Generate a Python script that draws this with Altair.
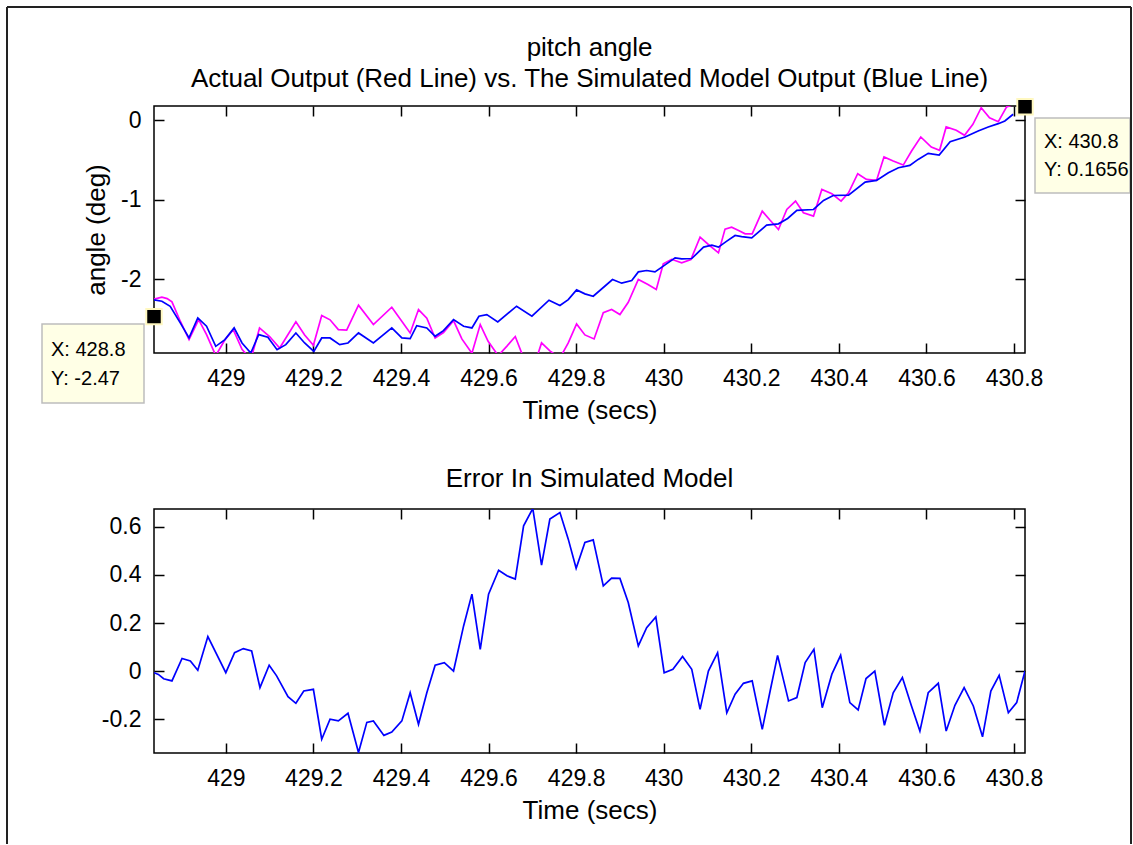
import altair as alt
import pandas as pd

FONT = "Liberation Sans"

# ---------------- data ----------------
# Simulated model output (blue), time in s, angle in deg
blue_t = [428.836, 428.854, 428.873, 428.896, 428.916, 428.936, 428.956, 428.977, 428.998, 429.019,
          429.037, 429.057, 429.075, 429.096, 429.117, 429.137, 429.160, 429.180, 429.201, 429.219,
          429.238, 429.260, 429.279, 429.303, 429.337, 429.379, 429.402, 429.421, 429.436, 429.459,
          429.478, 429.497, 429.520, 429.543, 429.562, 429.578, 429.596, 429.621, 429.664, 429.699,
          429.738, 429.763, 429.782, 429.801, 429.820, 429.839, 429.883, 429.904, 429.927, 429.942,
          429.961, 429.980, 429.999, 430.026, 430.041, 430.064, 430.091, 430.110, 430.125, 430.144,
          430.163, 430.178, 430.201, 430.235, 430.262, 430.283, 430.304, 430.342, 430.365, 430.387,
          430.422, 430.460, 430.486, 430.513, 430.536, 430.562, 430.581, 430.604, 430.629, 430.654,
          430.688, 430.718, 430.741, 430.764, 430.779, 430.798]
blue_v = [-2.26, -2.277, -2.34, -2.549, -2.738, -2.486, -2.591, -2.843, -2.759, -2.612,
          -2.801, -2.927, -2.696, -2.729, -2.885, -2.822, -2.675, -2.801, -2.906, -2.738,
          -2.738, -2.822, -2.801, -2.675, -2.801, -2.612, -2.738, -2.746, -2.583, -2.612,
          -2.717, -2.646, -2.507, -2.591, -2.612, -2.465, -2.444, -2.536, -2.339, -2.465,
          -2.264, -2.331, -2.256, -2.134, -2.184, -2.214, -2.004, -2.050, -2.017, -1.908,
          -1.891, -1.908, -1.836, -1.732, -1.744, -1.740, -1.597, -1.572, -1.597, -1.522,
          -1.451, -1.465, -1.480, -1.321, -1.304, -1.237, -1.136, -1.124, -1.011, -0.948,
          -0.944, -0.780, -0.759, -0.662, -0.599, -0.570, -0.495, -0.419, -0.440, -0.272,
          -0.213, -0.138, -0.087, -0.046, -0.012, 0.072]

# Actual output (drawn magenta)
mag_t = [428.836, 428.854, 428.866, 428.877, 428.896, 428.916, 428.938, 428.956, 428.977, 428.998,
         429.017, 429.037, 429.057, 429.077, 429.100, 429.123, 429.160, 429.180, 429.200, 429.219,
         429.238, 429.257, 429.276, 429.303, 429.337, 429.379, 429.421, 429.440, 429.459, 429.478,
         429.497, 429.520, 429.539, 429.562, 429.581, 429.599, 429.622, 429.642, 429.661, 429.680,
         429.701, 429.721, 429.740, 429.763, 429.782, 429.801, 429.820, 429.841, 429.862, 429.881,
         429.900, 429.919, 429.942, 429.964, 429.983, 429.999, 430.018, 430.041, 430.062, 430.083,
         430.102, 430.125, 430.140, 430.155, 430.171, 430.186, 430.202, 430.225, 430.243, 430.262,
         430.281, 430.301, 430.319, 430.342, 430.361, 430.384, 430.405, 430.422, 430.443, 430.463,
         430.486, 430.503, 430.524, 430.547, 430.566, 430.587, 430.611, 430.630, 430.645, 430.668,
         430.687, 430.706, 430.725, 430.744, 430.764, 430.783, 430.806, 430.825]
mag_v = [-2.25, -2.226, -2.243, -2.285, -2.528, -2.759, -2.507, -2.696, -2.96, -2.76,
         -2.633, -2.88, -3.01, -2.612, -2.72, -2.864, -2.536, -2.70, -2.83, -2.457,
         -2.51, -2.633, -2.64, -2.327, -2.57, -2.352, -2.675, -2.381, -2.49, -2.738,
         -2.67, -2.52, -2.75, -2.93, -2.57, -2.78, -2.96, -2.84, -2.72, -2.99,
         -3.14, -2.80, -2.90, -2.99, -2.80, -2.562, -2.70, -2.75, -2.42, -2.38,
         -2.444, -2.29, -2.004, -2.067, -2.13, -1.807, -1.75, -1.795, -1.753, -1.472,
         -1.564, -1.669, -1.37, -1.346, -1.388, -1.430, -1.430, -1.145, -1.26, -1.376,
         -1.124, -1.019, -1.166, -1.208, -0.872, -0.927, -1.019, -0.914, -0.675, -0.746,
         -0.759, -0.465, -0.516, -0.566, -0.390, -0.213, -0.339, -0.381, -0.087, -0.129,
         -0.192, -0.054, 0.155, 0.029, -0.021, 0.164, 0.21, 0.1656]

# Error in simulated model
err_t = [428.836, 428.846, 428.858, 428.877, 428.900, 428.919, 428.936, 428.959, 429.000, 429.020,
         429.040, 429.059, 429.078, 429.099, 429.116, 429.142, 429.160, 429.178, 429.200, 429.219,
         429.238, 429.257, 429.279, 429.303, 429.322, 429.337, 429.361, 429.379, 429.402, 429.421,
         429.440, 429.459, 429.478, 429.499, 429.520, 429.543, 429.562, 429.581, 429.600, 429.623,
         429.642, 429.661, 429.680, 429.701, 429.721, 429.740, 429.763, 429.782, 429.800, 429.820,
         429.839, 429.862, 429.881, 429.900, 429.919, 429.942, 429.961, 429.982, 430.001, 430.021,
         430.043, 430.064, 430.083, 430.102, 430.123, 430.144, 430.163, 430.182, 430.202, 430.225,
         430.243, 430.260, 430.285, 430.304, 430.323, 430.343, 430.362, 430.384, 430.404, 430.425,
         430.444, 430.462, 430.482, 430.504, 430.524, 430.545, 430.565, 430.585, 430.604, 430.627,
         430.645, 430.665, 430.686, 430.707, 430.728, 430.747, 430.766, 430.787, 430.806, 430.825]
err_v = [-0.006, -0.013, -0.031, -0.040, 0.053, 0.043, 0.004, 0.144, -0.006, 0.077,
         0.094, 0.084, -0.068, 0.025, -0.019, -0.105, -0.133, -0.082, -0.075, -0.282,
         -0.199, -0.206, -0.174, -0.337, -0.212, -0.206, -0.266, -0.252, -0.206, -0.089,
         -0.220, -0.089, 0.025, 0.036, 0.001, 0.188, 0.320, 0.091, 0.320, 0.419,
         0.396, 0.382, 0.603, 0.675, 0.440, 0.631, 0.658, 0.548, 0.427, 0.534,
         0.545, 0.354, 0.386, 0.385, 0.285, 0.105, 0.181, 0.225, -0.006, 0.008,
         0.061, 0.008, -0.158, 0.001, 0.077, -0.172, -0.095, -0.050, -0.040, -0.241,
         -0.082, 0.066, -0.123, -0.109, 0.036, 0.091, -0.151, -0.012, 0.066, -0.130,
         -0.160, -0.030, 0.001, -0.224, -0.089, -0.026, -0.140, -0.248, -0.089, -0.050,
         -0.248, -0.141, -0.068, -0.144, -0.272, -0.082, -0.017, -0.172, -0.130, 0.001]

x_ticks = [429, 429.2, 429.4, 429.6, 429.8, 430, 430.2, 430.4, 430.6, 430.8]
top_y_ticks = [-2, -1, 0]
bot_y_ticks = [-0.2, 0, 0.2, 0.4, 0.6]

x_domain = [428.836, 430.825]
top_y_domain = [-2.927, 0.176]
bot_y_domain = [-0.339, 0.673]

tip_x = [428.836, 430.825]
tip_y = [-2.47, 0.1656]
tip_text_x = ["X: 428.8", "X: 430.8"]
tip_text_y = ["Y: -2.47", "Y: 0.1656"]

series_names = ["Actual Output", "Simulated Model Output"]
series_colors = ["#ff00ff", "#0000ff"]

top_title = ["pitch angle", "Actual Output (Red Line) vs. The Simulated Model Output (Blue Line)"]
bottom_title = "Error In Simulated Model"

# ---------------- tables ----------------
top_df = pd.concat([
    pd.DataFrame({"t": mag_t, "v": mag_v, "s": series_names[0]}),
    pd.DataFrame({"t": blue_t, "v": blue_v, "s": series_names[1]}),
], ignore_index=True)
err_df = pd.DataFrame({"t": err_t, "v": err_v})
tips_df = pd.DataFrame({"x": tip_x, "y": tip_y})
one = pd.DataFrame({"k": [0]})

W = 871
H_TOP = 247
H_BOT = 244

xscale = alt.Scale(domain=x_domain, nice=False, zero=False)
ytop = alt.Scale(domain=top_y_domain, nice=False, zero=False)
ybot = alt.Scale(domain=bot_y_domain, nice=False, zero=False)

hyphen = "datum.value < 0 ? '-' + format(-datum.value, '~g') : format(datum.value, '~g')"

tick_style = dict(domain=False, grid=False, tickSize=10, offset=-10,
                  tickColor="black", tickWidth=1.5)


def x_axis_bottom():
    return alt.Axis(orient="bottom", values=x_ticks, format="~g", labelFlush=False,
                    labelPadding=14, labelFont=FONT, labelFontSize=23, labelColor="black",
                    title="Time (secs)", titleFont=FONT, titleFontSize=26,
                    titleFontWeight="normal", titleColor="black", titlePadding=7,
                    **tick_style)


def x_axis_top():
    return alt.Axis(orient="top", values=x_ticks, labels=False, title=None, **tick_style)


def y_axis_left(vals, title=None):
    kw = dict(orient="left", values=vals, labelExpr=hyphen, labelPadding=13,
              labelFont=FONT, labelFontSize=23, labelColor="black", **tick_style)
    if title:
        kw.update(title=title, titleFont=FONT, titleFontSize=26, titleFontWeight="normal",
                  titleColor="black", titlePadding=11)
    else:
        kw.update(title=None)
    return alt.Axis(**kw)


def y_axis_right(vals):
    return alt.Axis(orient="right", values=vals, labels=False, title=None, **tick_style)


def box(x1, x2, y1, y2):
    return alt.Chart(one).mark_rect(fill="#ffffe6", stroke="#bdbdbd", strokeWidth=1.5).encode(
        x=alt.value(x1), x2=alt.value(x2), y=alt.value(y1), y2=alt.value(y2))


def label(x, y, s, size=20, align="left"):
    return alt.Chart(one).mark_text(align=align, baseline="alphabetic", font=FONT,
                                    fontSize=size, color="black").encode(
        x=alt.value(x), y=alt.value(y), text=alt.value(s))


# ---------------- top panel ----------------
lines_top = alt.Chart(top_df).mark_line(clip=True, strokeWidth=1.7).encode(
    x=alt.X("t:Q", scale=xscale, axis=x_axis_bottom()),
    y=alt.Y("v:Q", scale=ytop, axis=y_axis_left(top_y_ticks, "angle (deg)")),
    color=alt.Color("s:N", scale=alt.Scale(domain=series_names, range=series_colors), legend=None),
)
axes2_top = alt.Chart(top_df).mark_line(strokeOpacity=0).encode(
    x=alt.X("t:Q", scale=xscale, axis=x_axis_top()),
    y=alt.Y("v:Q", scale=ytop, axis=y_axis_right(top_y_ticks)),
    detail="s:N",
)
tips = alt.Chart(tips_df).mark_square(size=240, filled=True, fill="black", stroke="#fff8c0",
                                       strokeWidth=2, opacity=1).encode(
    x=alt.X("x:Q", scale=xscale, axis=None),
    y=alt.Y("y:Q", scale=ytop, axis=None),
)
frame_left = alt.Chart(one).mark_rule(color="#222222", strokeWidth=2).encode(
    x=alt.value(-147), y=alt.value(-99), y2=alt.value(738))
frame_top = alt.Chart(one).mark_rule(color="#222222", strokeWidth=2).encode(
    x=alt.value(-147), x2=alt.value(977), y=alt.value(-99))
frame_right = alt.Chart(one).mark_rule(color="#222222", strokeWidth=2).encode(
    x=alt.value(977), y=alt.value(-99), y2=alt.value(738))

top = alt.layer(
    lines_top, axes2_top, tips,
    label(W / 2, -50, top_title[0], 26, "center"),
    label(W / 2, -19, top_title[1], 26, "center"),
    box(-112, -10, 218, 297), label(-103, 250, tip_text_x[0]), label(-103, 279, tip_text_y[0]),
    box(881, 976, 12, 87), label(890, 42, tip_text_x[1]), label(890, 70, tip_text_y[1]),
    frame_left, frame_top, frame_right,
).properties(width=W, height=H_TOP)

# ---------------- bottom panel ----------------
line_bot = alt.Chart(err_df).mark_line(clip=True, strokeWidth=1.7, color="#0000ff").encode(
    x=alt.X("t:Q", scale=xscale, axis=x_axis_bottom()),
    y=alt.Y("v:Q", scale=ybot, axis=y_axis_left(bot_y_ticks)),
)
axes2_bot = alt.Chart(err_df).mark_line(strokeOpacity=0).encode(
    x=alt.X("t:Q", scale=xscale, axis=x_axis_top()),
    y=alt.Y("v:Q", scale=ybot, axis=y_axis_right(bot_y_ticks)),
)
bottom = alt.layer(line_bot, axes2_bot).properties(
    width=W, height=H_BOT,
    title=alt.TitleParams(bottom_title, font=FONT, fontSize=26, fontWeight="normal", color="black",
                          anchor="middle", frame="group", offset=16),
)

chart = alt.vconcat(top, bottom, spacing=156, bounds="flush").properties(
    padding={"left": 5, "top": 5, "right": 0, "bottom": 0},
    background="white",
).configure_view(stroke="black", strokeWidth=1.5)

chart.save("out.html", embed_options={"renderer": "svg", "actions": False})
